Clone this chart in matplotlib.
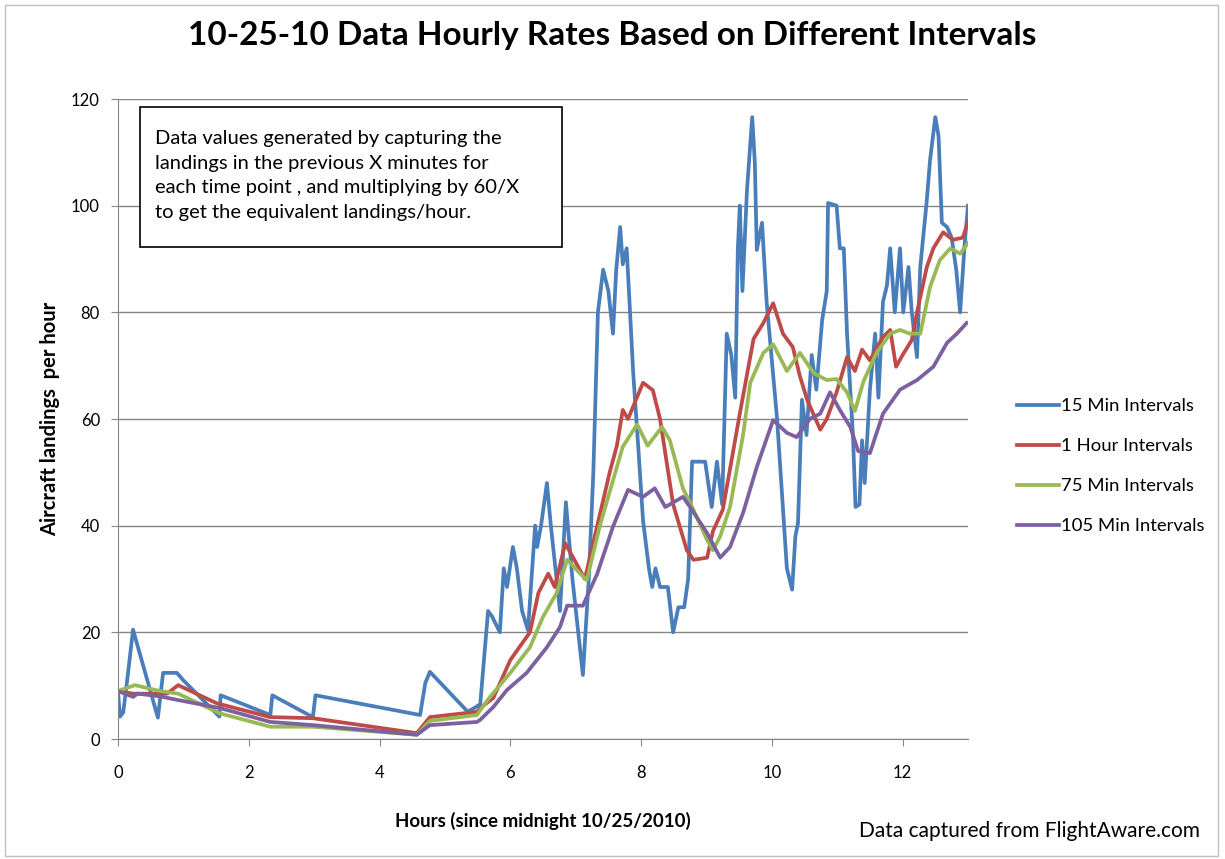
import matplotlib
matplotlib.use("Agg")
import matplotlib.pyplot as plt
from matplotlib.patches import Rectangle

plt.rcParams['font.family'] = ['Lato', 'DejaVu Sans']

# 15 minute windows
h15 = [0.00, 0.03, 0.08, 0.15, 0.23, 0.61, 0.69, 0.90, 1.00, 1.55, 1.57, 2.33, 2.36, 2.98, 3.02,
       4.62, 4.70, 4.77, 5.35, 5.54, 5.66, 5.72, 5.84, 5.90, 5.95, 6.04, 6.10, 6.18, 6.27, 6.38,
       6.41, 6.47, 6.56, 6.62, 6.76, 6.85, 6.95, 7.11, 7.20, 7.27, 7.34, 7.42, 7.50, 7.57, 7.62,
       7.68, 7.72, 7.78, 7.88, 7.95, 8.03, 8.12, 8.17, 8.22, 8.29, 8.41, 8.49, 8.57, 8.66, 8.72,
       8.78, 8.98, 9.08, 9.16, 9.24, 9.31, 9.38, 9.44, 9.48, 9.51, 9.55, 9.62, 9.70, 9.74, 9.77,
       9.85, 9.92, 10.08, 10.23, 10.31, 10.36, 10.40, 10.46, 10.53, 10.61, 10.68, 10.77, 10.84,
       10.86, 10.99, 11.04, 11.10, 11.15, 11.24, 11.28, 11.34, 11.38, 11.42, 11.50, 11.58, 11.63,
       11.70, 11.76, 11.81, 11.88, 11.96, 12.01, 12.09, 12.14, 12.22, 12.27, 12.37, 12.42, 12.50,
       12.55, 12.60, 12.68, 12.75, 12.82, 12.88, 12.95, 13.00]
v15 = [9.0, 4.2, 5.0, 12.0, 20.5, 4.0, 12.4, 12.4, 11.0, 4.2, 8.2, 4.5, 8.2, 4.1, 8.2,
       4.5, 10.5, 12.6, 5.1, 6.5, 24, 23, 20, 32, 28.5, 36, 32, 24, 20.4, 40,
       36, 40, 48, 40, 24, 44.4, 30, 12, 30, 50, 80, 88, 84, 76, 88,
       96, 89, 92, 68.6, 56, 41, 32, 28.5, 32, 28.5, 28.5, 20, 24.7, 24.7, 30,
       52, 52, 43.5, 52, 44, 76, 72, 64, 92, 100, 84, 103, 116.6, 108, 91.7,
       96.8, 82, 60, 32, 28, 38, 40.5, 63.6, 57, 72, 65.5, 78.6, 84,
       100.5, 100, 92, 92, 76, 57, 43.5, 44, 56, 48, 65.5, 76, 64,
       82, 85, 92, 80, 92, 80, 88.5, 80, 71.6, 88.5, 101, 108.6, 116.6,
       113, 96.8, 96, 94, 88, 80, 93, 100]

# 1 hour windows
h60 = [0, 0.23, 0.50, 0.75, 0.92, 1.51, 2.33, 2.98, 4.57, 4.77, 5.49, 5.54, 5.74, 6.00, 6.30,
       6.43, 6.58, 6.68, 6.84, 7.14, 7.33, 7.52, 7.63, 7.72, 7.80, 8.03, 8.18, 8.29, 8.49, 8.70,
       8.80, 9.01, 9.10, 9.25, 9.51, 9.72, 9.87, 10.02, 10.17, 10.32, 10.43, 10.54, 10.74, 10.84,
       10.99, 11.15, 11.27, 11.38, 11.50, 11.70, 11.81, 11.90, 12.00, 12.14, 12.22, 12.37, 12.47,
       12.62, 12.77, 12.92, 13.00]
v60 = [9, 8.5, 8.5, 8.5, 10.1, 6.7, 4.1, 3.9, 1.1, 4.1, 5.1, 5.8, 7.7, 14.8, 20,
       27.4, 31, 28.5, 36.7, 30, 40, 50, 55, 61.7, 60, 66.8, 65.4, 60, 44, 35.4,
       33.6, 34, 39, 43, 61, 75, 78, 81.7, 76, 73.5, 68, 63.6, 58, 60,
       65, 71.6, 69, 73, 71, 75.4, 76.7, 69.8, 72, 74.8, 80, 88.5, 92,
       95, 93.6, 94, 97]

# 75 minute windows
h75 = [0, 0.26, 0.64, 0.92, 1.56, 2.33, 2.98, 4.57, 4.77, 5.49, 5.54, 5.69, 6.00, 6.30, 6.50,
       6.71, 6.87, 7.07, 7.17, 7.37, 7.63, 7.72, 7.94, 8.10, 8.32, 8.44, 8.64, 8.80, 9.01, 9.10,
       9.21, 9.36, 9.56, 9.67, 9.87, 10.02, 10.23, 10.43, 10.64, 10.84, 10.99, 11.15, 11.27,
       11.40, 11.60, 11.81, 11.96, 12.11, 12.27, 12.42, 12.57, 12.73, 12.88, 13.00]
v75 = [9, 10.1, 9, 8.5, 4.8, 2.3, 2.3, 0.8, 3.4, 4.5, 5.4, 7.9, 12.4, 17.2, 22.9,
       27.4, 33.6, 31, 29.8, 40, 51, 54.8, 59, 55, 58.5, 56, 47, 43, 37.3, 35.4,
       38, 43.5, 57, 66.8, 72.4, 74, 69, 72.4, 68.6, 67.3, 67.5, 65, 61.5,
       67, 72.4, 76, 76.7, 76, 76, 84.8, 89.8, 92, 91, 93]

# 105 minute windows
h105 = [0, 0.23, 0.30, 0.64, 0.92, 1.56, 2.33, 2.98, 4.57, 4.77, 5.49, 5.54, 5.74, 5.95, 6.25,
        6.56, 6.76, 6.87, 7.11, 7.33, 7.57, 7.80, 8.03, 8.21, 8.37, 8.64, 8.75, 9.01, 9.21, 9.36,
        9.56, 9.77, 10.02, 10.23, 10.38, 10.58, 10.74, 10.89, 11.04, 11.20, 11.32, 11.50, 11.70,
        11.96, 12.22, 12.47, 12.68, 12.83, 12.98]
v105 = [9, 7.9, 8.5, 8, 7.3, 5.8, 3.2, 2.6, 0.8, 2.6, 3.2, 3.6, 6, 9.2, 12.4,
        17.2, 21, 25, 25, 31, 39.8, 46.7, 45.4, 47, 43.5, 45.4, 43.5, 38.6, 34, 36,
        42.4, 51, 59.8, 57.4, 56.6, 60, 61, 65, 61.7, 58.5, 54, 53.6, 61,
        65.5, 67.3, 69.8, 74.3, 76, 78]

xticks = [0, 2, 4, 6, 8, 10, 12]
yticks = [0, 20, 40, 60, 80, 100, 120]

fig = plt.figure(figsize=(12.25, 8.59), dpi=100)
ax = fig.add_axes([118/1225, 1 - 739/859, 850/1225, 640/859])

lw = 2.7
ax.plot(h15, v15, color='#4A7EBB', lw=lw, label='15 Min Intervals', solid_joinstyle='round')
ax.plot(h60, v60, color='#BE4B48', lw=lw, label='1 Hour Intervals', solid_joinstyle='round')
ax.plot(h75, v75, color='#98B954', lw=lw, label='75 Min Intervals', solid_joinstyle='round')
ax.plot(h105, v105, color='#7D60A0', lw=lw, label='105 Min Intervals', solid_joinstyle='round')

ax.set_xlim(0, 13)
ax.set_ylim(0, 120)
ax.set_xticks(xticks)
ax.set_yticks(yticks)
ax.grid(axis='y', color='#868686', lw=1)
ax.set_axisbelow(True)
for s in ['top', 'right']:
    ax.spines[s].set_visible(False)
for s in ['left', 'bottom']:
    ax.spines[s].set_color('#868686')
ax.tick_params(axis='both', colors='#868686', labelcolor='black', labelsize=12, length=5, direction='out')
ax.tick_params(axis='x', pad=14)
ax.tick_params(axis='y', pad=8)

ax.set_xlabel('Hours (since midnight 10/25/2010)', fontsize=13.5, fontweight='bold', labelpad=22)
ax.set_ylabel('Aircraft landings  per hour', fontsize=14.5, fontweight='bold', labelpad=8)

fig.suptitle('10-25-10 Data Hourly Rates Based on Different Intervals', fontsize=24,
             fontweight='bold', x=0.5, y=0.975, va='top')

# note box
fig.patches.append(Rectangle((140/1225, 1 - 247/859), 422/1225, 140/859, transform=fig.transFigure,
                             facecolor='white', edgecolor='black', lw=1.2, zorder=5))
fig.text(155/1225, 1 - 130/859,
         'Data values generated by capturing the\nlandings in the previous X minutes for\n'
         'each time point , and multiplying by 60/X\nto get the equivalent landings/hour.',
         fontsize=14.5, va='top', ha='left', linespacing=1.55, zorder=6)

fig.text(1200/1225, 1 - 831/859, 'Data captured from FlightAware.com', fontsize=15,
         ha='right', va='center')

fig.legend(loc='center left', bbox_to_anchor=(1000/1225, 1 - 466/859), frameon=False,
           fontsize=13.3, handlelength=2.3, handletextpad=0.1, labelspacing=1.3)

fig.patches.append(Rectangle((0.004, 0.004), 0.99, 0.99, transform=fig.transFigure,
                             facecolor='none', edgecolor='#BFBFBF', lw=1))

fig.savefig('out.png', dpi=100)
